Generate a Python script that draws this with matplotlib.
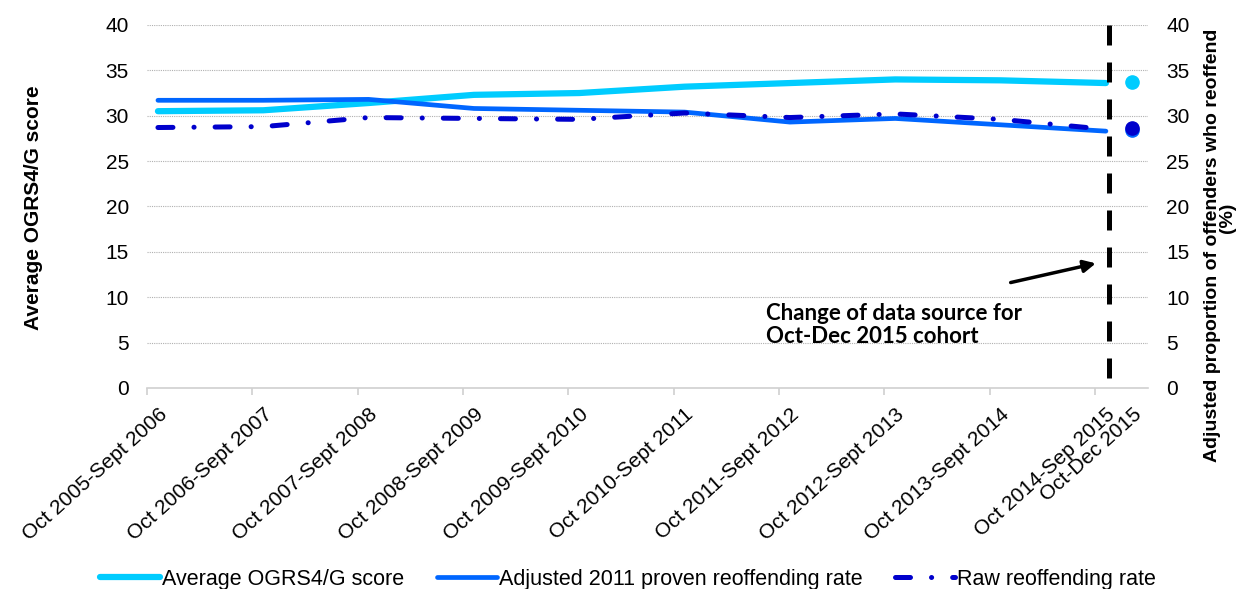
import matplotlib
matplotlib.use("Agg")
import matplotlib.pyplot as plt
from matplotlib.ticker import FixedLocator

plt.rcParams['font.family'] = ['Liberation Sans', 'DejaVu Sans']

# categories (last one is the short Oct-Dec 2015 cohort, drawn as separate dots)
periods = ['Oct 2005-Sept 2006', 'Oct 2006-Sept 2007', 'Oct 2007-Sept 2008',
           'Oct 2008-Sept 2009', 'Oct 2009-Sept 2010', 'Oct 2010-Sept 2011',
           'Oct 2011-Sept 2012', 'Oct 2012-Sept 2013', 'Oct 2013-Sept 2014',
           'Oct 2014-Sep 2015', 'Oct-Dec 2015']
xpos = [0, 1, 2, 3, 4, 5, 6, 7, 8, 9, 9.25]

ogrs = [30.5, 30.6, 31.4, 32.3, 32.5, 33.2, 33.6, 34.0, 33.9, 33.6]
adjusted = [31.7, 31.7, 31.8, 30.8, 30.6, 30.4, 29.3, 29.7, 29.0, 28.3]
raw = [28.7, 28.8, 29.8, 29.7, 29.6, 30.3, 29.8, 30.2, 29.6, 28.5]
ogrs_new = 33.7
adjusted_new = 28.4
raw_new = 28.7

c_ogrs = '#00CCFF'
c_adj = '#0066FF'
c_raw = '#0000CC'

fig = plt.figure(figsize=(12.51, 5.89), dpi=100)
ax = fig.add_axes([0.1175, 0.3413, 0.8002, 0.6163])

ax.plot(xpos[:10], ogrs, color=c_ogrs, lw=4.5, solid_capstyle='round', label='Average OGRS4/G score')
ax.plot(xpos[:10], adjusted, color=c_adj, lw=3.4, solid_capstyle='round',
        label='Adjusted 2011 proven reoffending rate')
raw_line, = ax.plot(xpos[:10], raw, color=c_raw, lw=3.6, dash_capstyle='round',
                    label='Raw reoffending rate')
raw_line.set_dashes([3.0, 4.2, 0.03, 4.2])

ax.plot(xpos[10], ogrs_new, 'o', color=c_ogrs, ms=9.5)
ax.plot(xpos[10], adjusted_new, 'o', color=c_adj, ms=9.5)
ax.plot(xpos[10], raw_new, 'o', color=c_raw, ms=9.5)

# change of data source marker
vline, = ax.plot([9.03, 9.03], [40, 0.4], color='black', lw=3.6, solid_capstyle='butt')
vline.set_linestyle((0, (4.0, 3.4)))
ax.annotate('', xy=(8.93, 13.8), xytext=(8.07, 11.55),
            arrowprops=dict(arrowstyle='-|>', color='black', lw=2.5, mutation_scale=18))
ax.text(5.77, 6.95, 'Change of data source for\nOct-Dec 2015 cohort', ha='left', va='center',
        fontsize=16, fontweight='bold', family=['Lato', 'DejaVu Sans'], linespacing=1.15)

ax.set_xlim(-0.104, 9.40)
ax.set_ylim(0, 40)
ax.set_yticks(range(0, 41, 5))
ax.yaxis.grid(True, color='#B0B0B0', linestyle=(0, (1, 1)), lw=0.8)
ax.set_axisbelow(True)
for s in ['top', 'left', 'right']:
    ax.spines[s].set_visible(False)
ax.spines['bottom'].set_color('#D0D0D0')
ax.spines['bottom'].set_linewidth(1.2)

ax.set_xticks(xpos)
ax.set_xticklabels(periods, rotation=42, ha='right', va='top', rotation_mode='anchor', fontsize=15)
ax.tick_params(axis='x', which='major', length=0, pad=12)
ax.xaxis.set_minor_locator(FixedLocator([i - 0.104 for i in range(10)]))
ax.tick_params(axis='x', which='minor', length=5, color='#D0D0D0', width=1.2)
ax.tick_params(axis='y', length=0, labelsize=15, pad=13)
fig.text(0.027, 0.648, 'Average OGRS4/G score', rotation=90, ha='center', va='center',
         fontsize=15, fontweight='bold')

ax2 = ax.twinx()
ax2.set_ylim(0, 40)
ax2.set_yticks(range(0, 41, 5))
ax2.tick_params(axis='y', length=0, labelsize=15, pad=13)
for s in ['top', 'left', 'right', 'bottom']:
    ax2.spines[s].set_visible(False)
fig.text(0.9696, 0.584, 'Adjusted proportion of offenders who reoffend', rotation=90,
         ha='center', va='center', fontsize=14, fontweight='bold')
fig.text(0.9816, 0.630, '(%)', rotation=90, ha='center', va='center', fontsize=14, fontweight='bold')

h, l = ax.get_legend_handles_labels()
fig.legend(h, l, loc='lower center', bbox_to_anchor=(0.502, -0.034), ncol=3, frameon=False,
           fontsize=15.5, handlelength=2.8, handletextpad=0.1, columnspacing=1.5)

fig.savefig('out.png', dpi=100)
